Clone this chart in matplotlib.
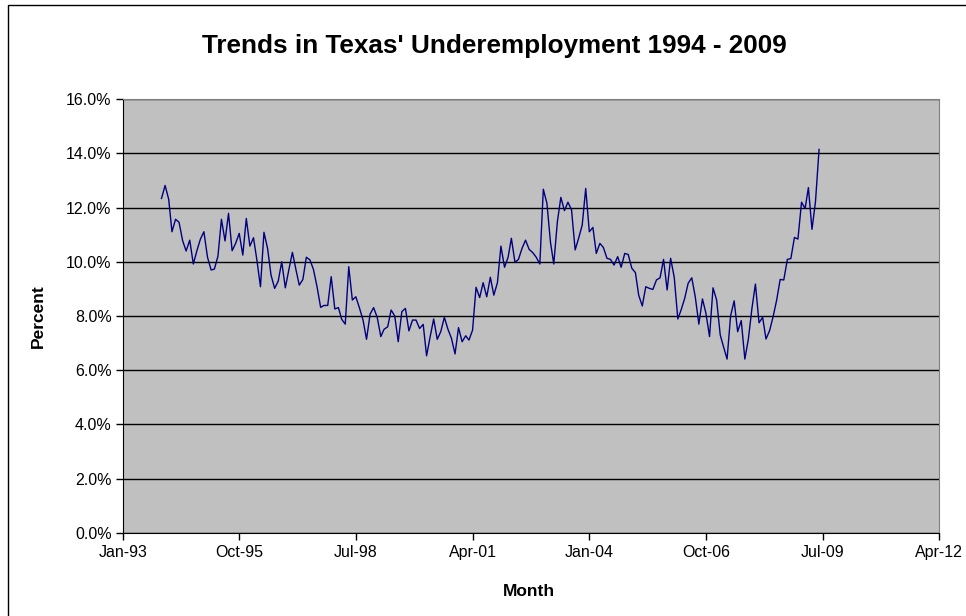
import matplotlib
matplotlib.use("Agg")
import matplotlib.pyplot as plt
from matplotlib.ticker import FuncFormatter
from datetime import date

# monthly underemployment rate (%), Dec 1993 - Jun 2009
rate = [
    12.34, 12.82, 12.31, 11.11, 11.57, 11.46, 10.78, 10.40, 10.80, 9.92,
    10.40, 10.84, 11.11, 10.17, 9.70, 9.73, 10.21, 11.57, 10.77, 11.79,
    10.41, 10.69, 11.05, 10.25, 11.60, 10.58, 10.89, 10.07, 9.08, 11.09,
    10.50, 9.51, 9.02, 9.29, 10.00, 9.04, 9.70, 10.35, 9.70, 9.14,
    9.35, 10.17, 10.07, 9.72, 9.08, 8.32, 8.39, 8.39, 9.45, 8.26,
    8.31, 7.88, 7.70, 9.82, 8.59, 8.71, 8.30, 7.85, 7.14, 8.07,
    8.31, 7.95, 7.24, 7.51, 7.60, 8.22, 8.00, 7.05, 8.16, 8.28,
    7.45, 7.85, 7.85, 7.54, 7.69, 6.53, 7.24, 7.89, 7.14, 7.42,
    7.95, 7.51, 7.18, 6.60, 7.57, 7.05, 7.27, 7.11, 7.48, 9.06,
    8.68, 9.23, 8.71, 9.43, 8.77, 9.23, 10.58, 9.80, 10.17, 10.87,
    9.98, 10.09, 10.50, 10.80, 10.46, 10.34, 10.17, 9.92, 12.68, 12.16,
    10.71, 9.92, 11.48, 12.38, 11.89, 12.20, 11.92, 10.44, 10.87, 11.36,
    12.71, 11.11, 11.27, 10.31, 10.68, 10.53, 10.13, 10.09, 9.88, 10.19,
    9.80, 10.31, 10.27, 9.76, 9.60, 8.77, 8.37, 9.08, 9.02, 8.98,
    9.33, 9.41, 10.09, 8.96, 10.13, 9.43, 7.89, 8.22, 8.65, 9.21,
    9.41, 8.71, 7.70, 8.63, 8.10, 7.24, 9.04, 8.59, 7.30, 6.87,
    6.41, 8.00, 8.56, 7.42, 7.83, 6.41, 7.14, 8.28, 9.18, 7.75,
    7.95, 7.15, 7.46, 7.97, 8.59, 9.35, 9.33, 10.09, 10.12, 10.90,
    10.84, 12.20, 11.97, 12.74, 11.20, 12.22, 14.15,
]
months = [date(1993 + (11 + i) // 12, (11 + i) % 12 + 1, 1) for i in range(len(rate))]

tick_dates = [date(1993, 1, 1), date(1995, 10, 1), date(1998, 7, 1), date(2001, 4, 1),
              date(2004, 1, 1), date(2006, 10, 1), date(2009, 7, 1), date(2012, 4, 1)]
tick_labels = ["Jan-93", "Oct-95", "Jul-98", "Apr-01", "Jan-04", "Oct-06", "Jul-09", "Apr-12"]

plt.rcParams["font.family"] = ["Liberation Sans", "DejaVu Sans"]

fig = plt.figure(figsize=(9.66, 6.16), dpi=100)
# chart frame (runs off the right and bottom edges)
fig.patches.append(plt.Rectangle((8 / 966, -0.1), 1.2, 1.1 - 5 / 616, transform=fig.transFigure,
                                 fill=False, edgecolor="black", linewidth=1.0))

ax = fig.add_axes([122.7 / 966, 1 - 532.7 / 616, (939.3 - 122.7) / 966, (532.7 - 99.3) / 616])
ax.set_facecolor("#c0c0c0")

ax.plot(months, rate, color="#000080", linewidth=1.0, zorder=3)

ax.set_ylim(0, 16)
ax.set_yticks(range(0, 17, 2))
ax.yaxis.set_major_formatter(FuncFormatter(lambda v, p: "%.1f%%" % v))
ax.grid(axis="y", color="black", linewidth=1.0)
ax.set_axisbelow(True)

ax.set_xlim(date(1993, 1, 1), date(2012, 4, 1))
ax.set_xticks(tick_dates)
ax.set_xticklabels(tick_labels)

for s in ["top", "right"]:
    ax.spines[s].set_color("#808080")
for s in ["left", "bottom"]:
    ax.spines[s].set_color("black")
ax.tick_params(axis="both", direction="out", length=5, width=1, colors="black", labelsize=11.5)
ax.tick_params(axis="x", pad=4)
ax.tick_params(axis="y", pad=3)

fig.text(494 / 966, 1 - 46 / 616, "Trends in Texas' Underemployment 1994 - 2009",
         fontsize=18.8, fontweight="bold", ha="center", va="center")

ax.set_xlabel("Month", fontsize=12.5, fontweight="bold", va="center")
ax.xaxis.set_label_coords(0.498, (532.7 - 591) / 433.4)
ax.set_ylabel("Percent", fontsize=12.5, fontweight="bold", va="center")
ax.yaxis.set_label_coords((38 - 122.7) / 816.6, 0.5)

fig.savefig("out.png", dpi=100)
